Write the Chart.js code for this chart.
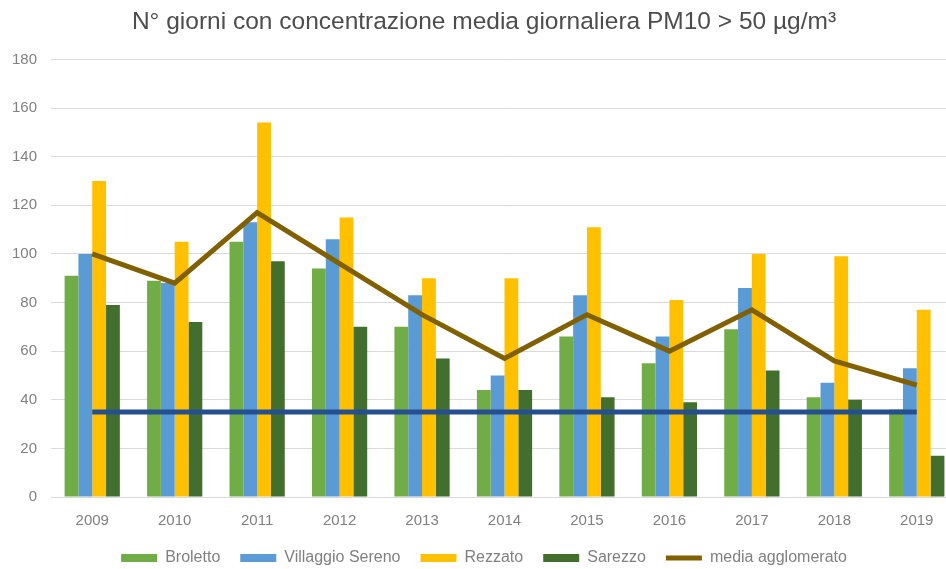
<!DOCTYPE html>
<html>
<head>
<meta charset="utf-8">
<script src="https://cdn.jsdelivr.net/npm/chart.js@4/dist/chart.umd.min.js"></script>
<style>
  html, body { margin: 0; padding: 0; background: #fff; overflow: hidden; }
</style>
</head>
<body>
<canvas id="pm10-chart" width="960" height="576"></canvas>
<script>
// dati
const anni = ['2009', '2010', '2011', '2012', '2013', '2014', '2015', '2016', '2017', '2018', '2019'];
const broletto = [91, 89, 105, 94, 70, 44, 66, 55, 69, 41, 36];
const villaggioSereno = [100, 88, 113, 106, 83, 50, 83, 66, 86, 47, 53];
const rezzato = [130, 105, 154, 115, 90, 90, 111, 81, 100, 99, 77];
const sarezzo = [79, 72, 97, 70, 57, 44, 41, 39, 52, 40, 17];
const mediaAgglomerato = [100, 88, 117, 96, 75, 57, 75, 60, 77, 56, 46];
const limite = [35, 35, 35, 35, 35, 35, 35, 35, 35, 35, 35];
const yTicks = [0, 20, 40, 60, 80, 100, 120, 140, 160, 180];

const grigio = '#808080';
const font = 'Liberation Sans';

const ctx = document.getElementById('pm10-chart').getContext('2d');
const chart = new Chart(ctx, {
  type: 'bar',
  data: {
    labels: anni,
    datasets: [
      { label: 'Broletto', data: broletto, backgroundColor: '#70ad47', order: 2 },
      { label: 'Villaggio Sereno', data: villaggioSereno, backgroundColor: '#5b9bd5', order: 2 },
      { label: 'Rezzato', data: rezzato, backgroundColor: '#ffc000', order: 2 },
      { label: 'Sarezzo', data: sarezzo, backgroundColor: '#436f2e', order: 2 },
      {
        type: 'line', label: 'media agglomerato', data: mediaAgglomerato,
        borderColor: '#806000', backgroundColor: '#806000', borderWidth: 5,
        pointRadius: 0, tension: 0, order: 1
      },
      {
        type: 'line', label: 'limite', data: limite,
        borderColor: '#264f8f', backgroundColor: '#264f8f', borderWidth: 5,
        pointRadius: 0, tension: 0, order: 0
      }
    ]
  },
  options: {
    responsive: false,
    animation: false,
    devicePixelRatio: 1,
    layout: { padding: { left: 10, right: 2, top: 0, bottom: 0 } },
    datasets: {
      bar: { barPercentage: 1, categoryPercentage: 0.67 }
    },
    scales: {
      x: {
        grid: { display: false },
        border: { display: false },
        // mirror + padding negativo: etichette sotto l'asse senza clip nel box ridotto
        ticks: { color: grigio, font: { family: font, size: 15 }, padding: -33, maxRotation: 0, mirror: true },
        afterFit(scale) { scale.height = 33; }
      },
      y: {
        min: 0,
        max: 180,
        afterBuildTicks(scale) { scale.ticks = yTicks.map(v => ({ value: v })); },
        grid: { color: '#d9d9d9', lineWidth: 1, drawTicks: false },
        border: { display: false },
        ticks: { color: grigio, font: { family: font, size: 15 }, padding: 14 },
        afterFit(scale) { scale.width = 41; }
      }
    },
    plugins: {
      title: {
        display: true,
        text: 'N° giorni con concentrazione media giornaliera PM10 > 50 µg/m³',
        color: '#4d4d4d',
        font: { family: font, size: 24.5, weight: 'normal' },
        padding: { top: 8, bottom: 22 }
      },
      legend: {
        position: 'bottom',
        labels: {
          color: grigio,
          font: { family: font, size: 16 },
          usePointStyle: true,
          pointStyleWidth: 36,
          boxWidth: 36,
          boxHeight: 8,
          padding: 20,
          filter: item => item.text !== 'limite',
          sort: (a, b) => a.datasetIndex - b.datasetIndex,
          generateLabels(c) {
            const items = Chart.defaults.plugins.legend.labels.generateLabels(c);
            items.forEach(it => {
              it.pointStyle = c.data.datasets[it.datasetIndex].type === 'line' ? 'line' : 'rect';
            });
            return items;
          }
        }
      },
      tooltip: { enabled: false }
    }
  }
});
</script>
</body>
</html>
